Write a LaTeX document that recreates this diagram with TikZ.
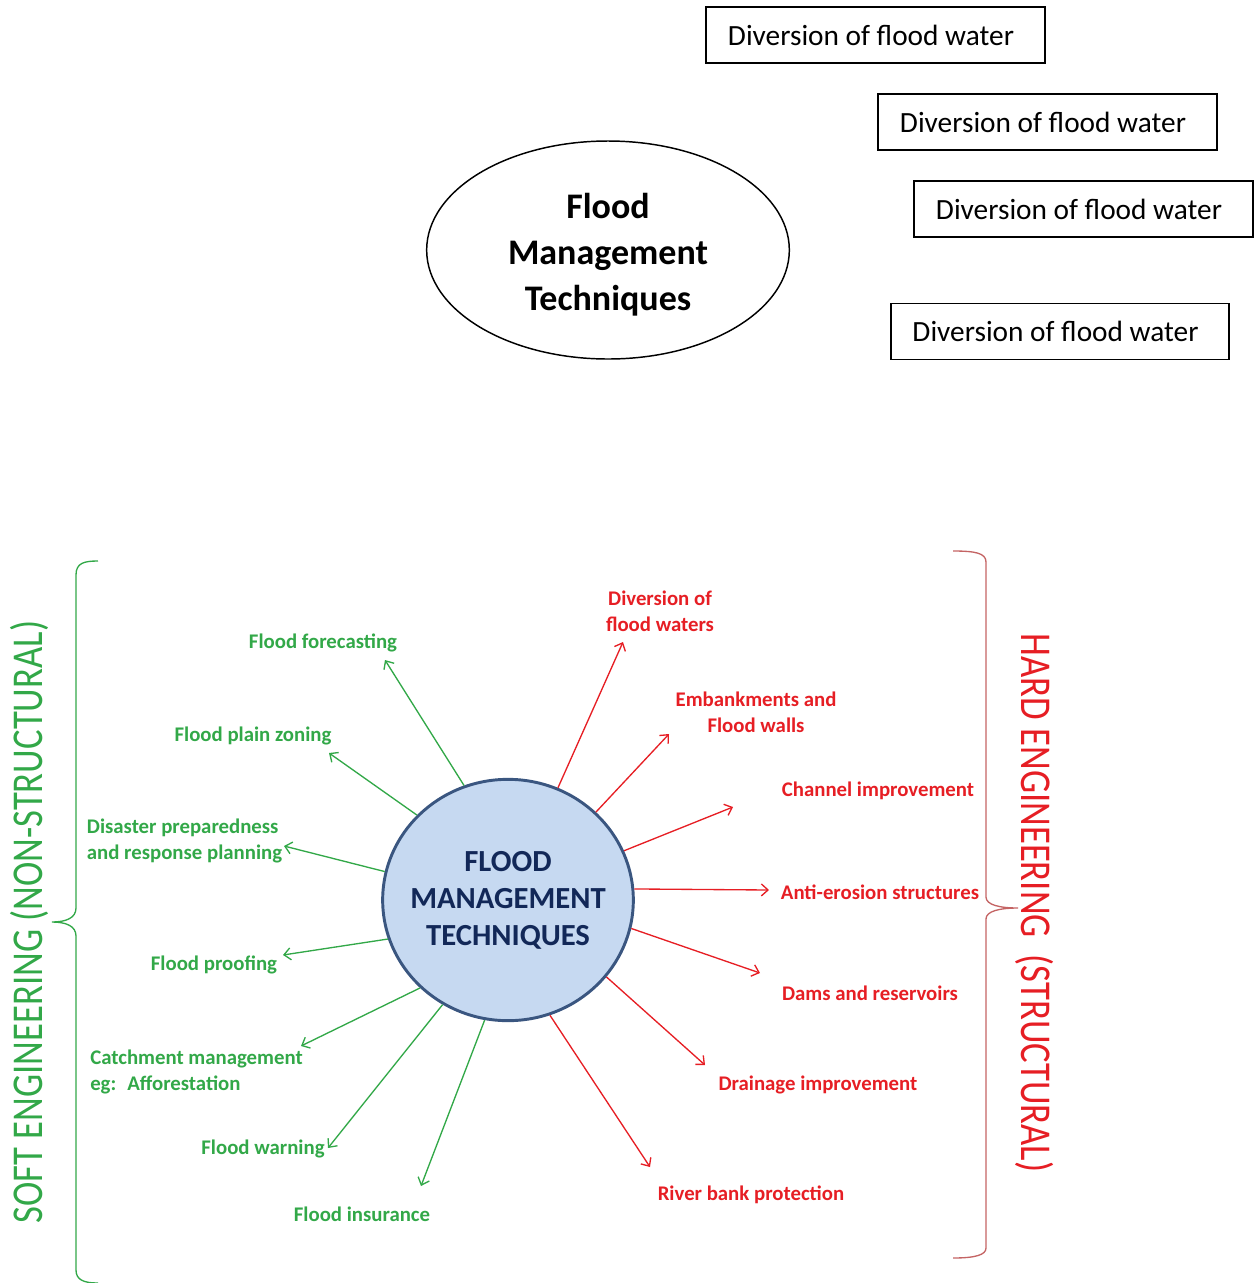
\documentclass[tikz,border=0pt]{standalone}
\usepackage{fontspec}
\setmainfont{Carlito}
\usetikzlibrary{arrows.meta,shapes.geometric}
\definecolor{softgreen}{RGB}{50,168,72}
\definecolor{hardred}{RGB}{230,30,36}
\definecolor{bracered}{RGB}{196,100,100}
\definecolor{hubfill}{RGB}{198,217,241}
\definecolor{hubline}{RGB}{58,86,128}
\definecolor{hubtext}{RGB}{18,40,88}

\begin{document}
\begin{tikzpicture}[x=0.75pt,y=-0.75pt,>={Straight Barb[length=5pt,width=9pt]},
		box node/.style={draw,line width=1.4pt,minimum width=254pt,minimum height=42pt,
			inner sep=0pt,font=\fontsize{22}{26}\selectfont,
			execute at begin node={\hspace*{-6.75pt}}},
		soft label/.style={text=softgreen,inner sep=0pt,yshift=-1.5pt,
			font=\bfseries\fontsize{15.6}{19.5}\selectfont},
		hard label/.style={text=hardred,inner sep=0pt,yshift=-1.5pt,
			font=\bfseries\fontsize{15.6}{19.5}\selectfont},
		soft arrow/.style={->,color=softgreen,line width=1pt},
		hard arrow/.style={->,color=hardred,line width=1pt},
		side text/.style={font=\fontsize{27.5}{30}\selectfont,inner sep=0pt}]
		
		\useasboundingbox (0,0) rectangle (1256,1283);
		
		% upper sketch
		\node[ellipse,draw,line width=1.1pt,minimum width=272pt,minimum height=163.5pt,
			label={[align=center,yshift=-3.75pt,font=\bfseries\fontsize{27}{34.5}\selectfont]center:Flood\\Management\\Techniques}]
			(fmt) at (608,250) {};
		\node[box node] (d1) at (875.5,35) {Diversion of flood water};
		\node[box node] (d2) at (1047.5,122) {Diversion of flood water};
		\node[box node] (d3) at (1083.5,209) {Diversion of flood water};
		\node[box node] (d4) at (1060,331.5) {Diversion of flood water};
		
		% hub
		\node[ellipse,draw=hubline,fill=hubfill,line width=2.2pt,minimum width=188pt,
			minimum height=181pt,inner sep=0pt,
			label={[text=hubtext,align=center,font=\bfseries\fontsize{23}{27.75}\selectfont]center:FLOOD\\MANAGEMENT\\TECHNIQUES}]
			(hub) at (508,900) {};
		
		% soft side
		\node[soft label] (fore) at (323,641) {Flood forecasting};
		\node[soft label] (zone) at (253,734) {Flood plain zoning};
		\node[soft label,align=left] (prep) at (184.5,839) {Disaster preparedness\\and response planning};
		\node[soft label] (proof) at (214,963) {Flood proofing};
		\node[soft label,align=left,anchor=west] (catch) at (90,1070) {Catchment management\\eg:~ Afforestation};
		\node[soft label] (warn) at (263,1147) {Flood warning};
		\node[soft label] (insur) at (362,1212) {Flood insurance};
		
		\coordinate (g1) at (385,660);
		\coordinate (g2) at (329,753);
		\coordinate (g3) at (284,846);
		\coordinate (g4) at (283,955);
		\coordinate (g5) at (301,1046);
		\coordinate (g6) at (328,1148);
		\coordinate (g7) at (421,1186);
		
		\path[soft arrow]
		(hub.111) edge (g1)
		(hub.137) edge (g2)
		(hub.167) edge (g3)
		(hub.198) edge (g4)
		(hub.225) edge (g5)
		(hub.238) edge (g6)
		(hub.259) edge (g7);
		
		% hard side
		\node[hard label,align=center] (divert) at (660,609) {Diversion of\\flood waters};
		\node[hard label,align=center] (embank) at (756,710) {Embankments and\\Flood walls};
		\node[hard label] (chan) at (878,789) {Channel improvement};
		\node[hard label] (eros) at (880,890) {Anti-erosion structures};
		\node[hard label] (dams) at (870,991) {Dams and reservoirs};
		\node[hard label] (drain) at (818,1083) {Drainage improvement};
		\node[hard label] (bank) at (751,1193) {River bank protection};
		
		\coordinate (r1) at (623,642);
		\coordinate (r2) at (669,734);
		\coordinate (r3) at (733,807);
		\coordinate (r4) at (769,890);
		\coordinate (r5) at (760,973);
		\coordinate (r6) at (705,1065);
		\coordinate (r7) at (650,1167);
		
		\path[hard arrow]
		(hub.66) edge (r1)
		(hub.45) edge (r2)
		(hub.23) edge (r3)
		(hub.5) edge (r4)
		(hub.347) edge (r5)
		(hub.322) edge (r6)
		(hub.290) edge (r7);
		
		% braces
		\draw[softgreen,line width=1pt] (98,561) .. controls (84,561) and (76,563) .. (76,575)
			-- (76,908) .. controls (76,918) and (66,922) .. (52,922)
			.. controls (66,922) and (76,926) .. (76,936)
			-- (76,1270) .. controls (76,1280) and (84,1283) .. (98,1283);
		\draw[bracered,line width=1pt] (953,551) .. controls (975,551) and (986,553) .. (986,562)
			-- (986,897) .. controls (986,905) and (1000,908) .. (1018,908)
			.. controls (1000,908) and (986,911) .. (986,919)
			-- (986,1248) .. controls (986,1255) and (975,1258) .. (953,1258);
		
		\node[side text,text=softgreen,rotate=90] (soft) at (29,922)
			{\scalebox{1}[1.2]{SOFT ENGINEERING (NON-STRUCTURAL)}};
		\node[side text,text=hardred,rotate=-90] (hard) at (1035,903)
			{\scalebox{1}[1.2]{HARD ENGINEERING\ \ (STRUCTURAL)}};
		
\end{tikzpicture}
\end{document}
